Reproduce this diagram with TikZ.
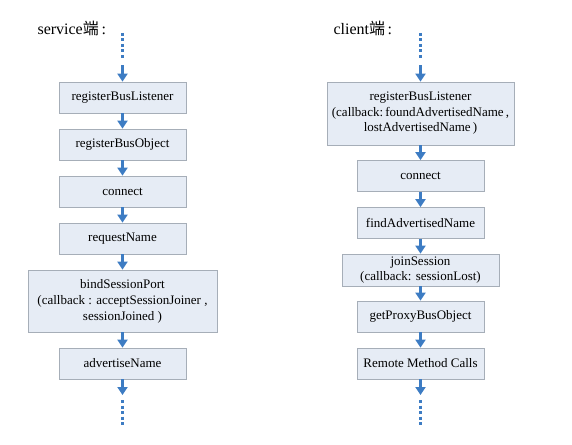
\documentclass[tikz,border=0pt]{standalone}
\usepackage{fontspec}
\setmainfont{Liberation Serif}
\newfontfamily\cjk{Noto Sans CJK SC}
\usepackage{tikz}
\usetikzlibrary{arrows.meta}
\usepackage{xcolor}
\definecolor{boxfill}{HTML}{E6ECF5}
\definecolor{boxline}{HTML}{A6AEB8}
\definecolor{flow}{HTML}{3D7CC3}

\begin{document}
\begin{tikzpicture}[x=1pt,y=-1pt,
    stepbox/.style={draw=boxline,fill=boxfill,line width=0.8pt,align=center,inner sep=1pt,
        minimum width=127pt,minimum height=31pt,font=\fontsize{13}{16}\selectfont},
    flowarrow/.style={draw=flow,line width=2.8pt,-{Triangle[width=10pt,length=8pt]}},
    flowdots/.style={draw=flow,line width=3pt,dash pattern=on 3pt off 2.5pt},
    title/.style={anchor=west,font=\fontsize{16}{18}\selectfont}]
        \useasboundingbox (0,0) rectangle (572,444);

        % service side
        \node[title] (service) at (34,28) {service{\cjk 端}\,:};
        \coordinate (stop) at (122.5,33);
        \coordinate (send) at (122.5,58);
        \coordinate (sin) at (122.5,65);
        \node[stepbox] (sreg) at (122.5,97.5) {registerBusListener};
        \node[stepbox] (sobj) at (122.5,144.5) {registerBusObject};
        \node[stepbox] (scon) at (122.5,191.5) {connect};
        \node[stepbox] (sreq) at (122.5,238.5) {requestName};
        \node[stepbox,minimum width=189pt,minimum height=62pt] (sbind) at (122.5,301) {bindSessionPort\\(callback : acceptSessionJoiner ,\\sessionJoined )};
        \node[stepbox] (sadv) at (122.5,363.5) {advertiseName};
        \coordinate (sout) at (122.5,395);
        \coordinate (stail) at (122.5,400);
        \coordinate (sbot) at (122.5,425);

        \draw[flowdots] (stop) -- (send);
        \draw[flowarrow] (sin) -- (sreg);
        \draw[flowarrow] (sreg) -- (sobj);
        \draw[flowarrow] (sobj) -- (scon);
        \draw[flowarrow] (scon) -- (sreq);
        \draw[flowarrow] (sreq) -- (sbind);
        \draw[flowarrow] (sbind) -- (sadv);
        \draw[flowarrow] (sadv) -- (sout);
        \draw[flowdots] (stail) -- (sbot);

        % client side
        \node[title] (client) at (330,28) {client{\cjk 端}\,:};
        \coordinate (ctop) at (420.5,33);
        \coordinate (cend) at (420.5,58);
        \coordinate (cin) at (420.5,65);
        \node[stepbox,minimum width=187pt,minimum height=63pt,font=\fontsize{13}{15.5}\selectfont] (creg) at (420.5,113.5) {registerBusListener\\(callback:\,foundAdvertisedName\,,\\lostAdvertisedName\,)};
        \node[stepbox] (ccon) at (420.5,176) {connect};
        \node[stepbox] (cfind) at (420.5,223) {findAdvertisedName};
        \node[stepbox,minimum width=157pt,minimum height=32pt,font=\fontsize{13}{15}\selectfont] (cjoin) at (420.5,270) {joinSession\\(callback: sessionLost)};
        \node[stepbox] (cproxy) at (420.5,316.5) {getProxyBusObject};
        \node[stepbox] (cremote) at (420.5,363.5) {Remote Method Calls};
        \coordinate (cout) at (420.5,395);
        \coordinate (ctail) at (420.5,400);
        \coordinate (cbot) at (420.5,425);

        \draw[flowdots] (ctop) -- (cend);
        \draw[flowarrow] (cin) -- (creg);
        \draw[flowarrow] (creg) -- (ccon);
        \draw[flowarrow] (ccon) -- (cfind);
        \draw[flowarrow] (cfind) -- (cjoin);
        \draw[flowarrow] (cjoin) -- (cproxy);
        \draw[flowarrow] (cproxy) -- (cremote);
        \draw[flowarrow] (cremote) -- (cout);
        \draw[flowdots] (ctail) -- (cbot);
    \end{tikzpicture}
\end{document}
